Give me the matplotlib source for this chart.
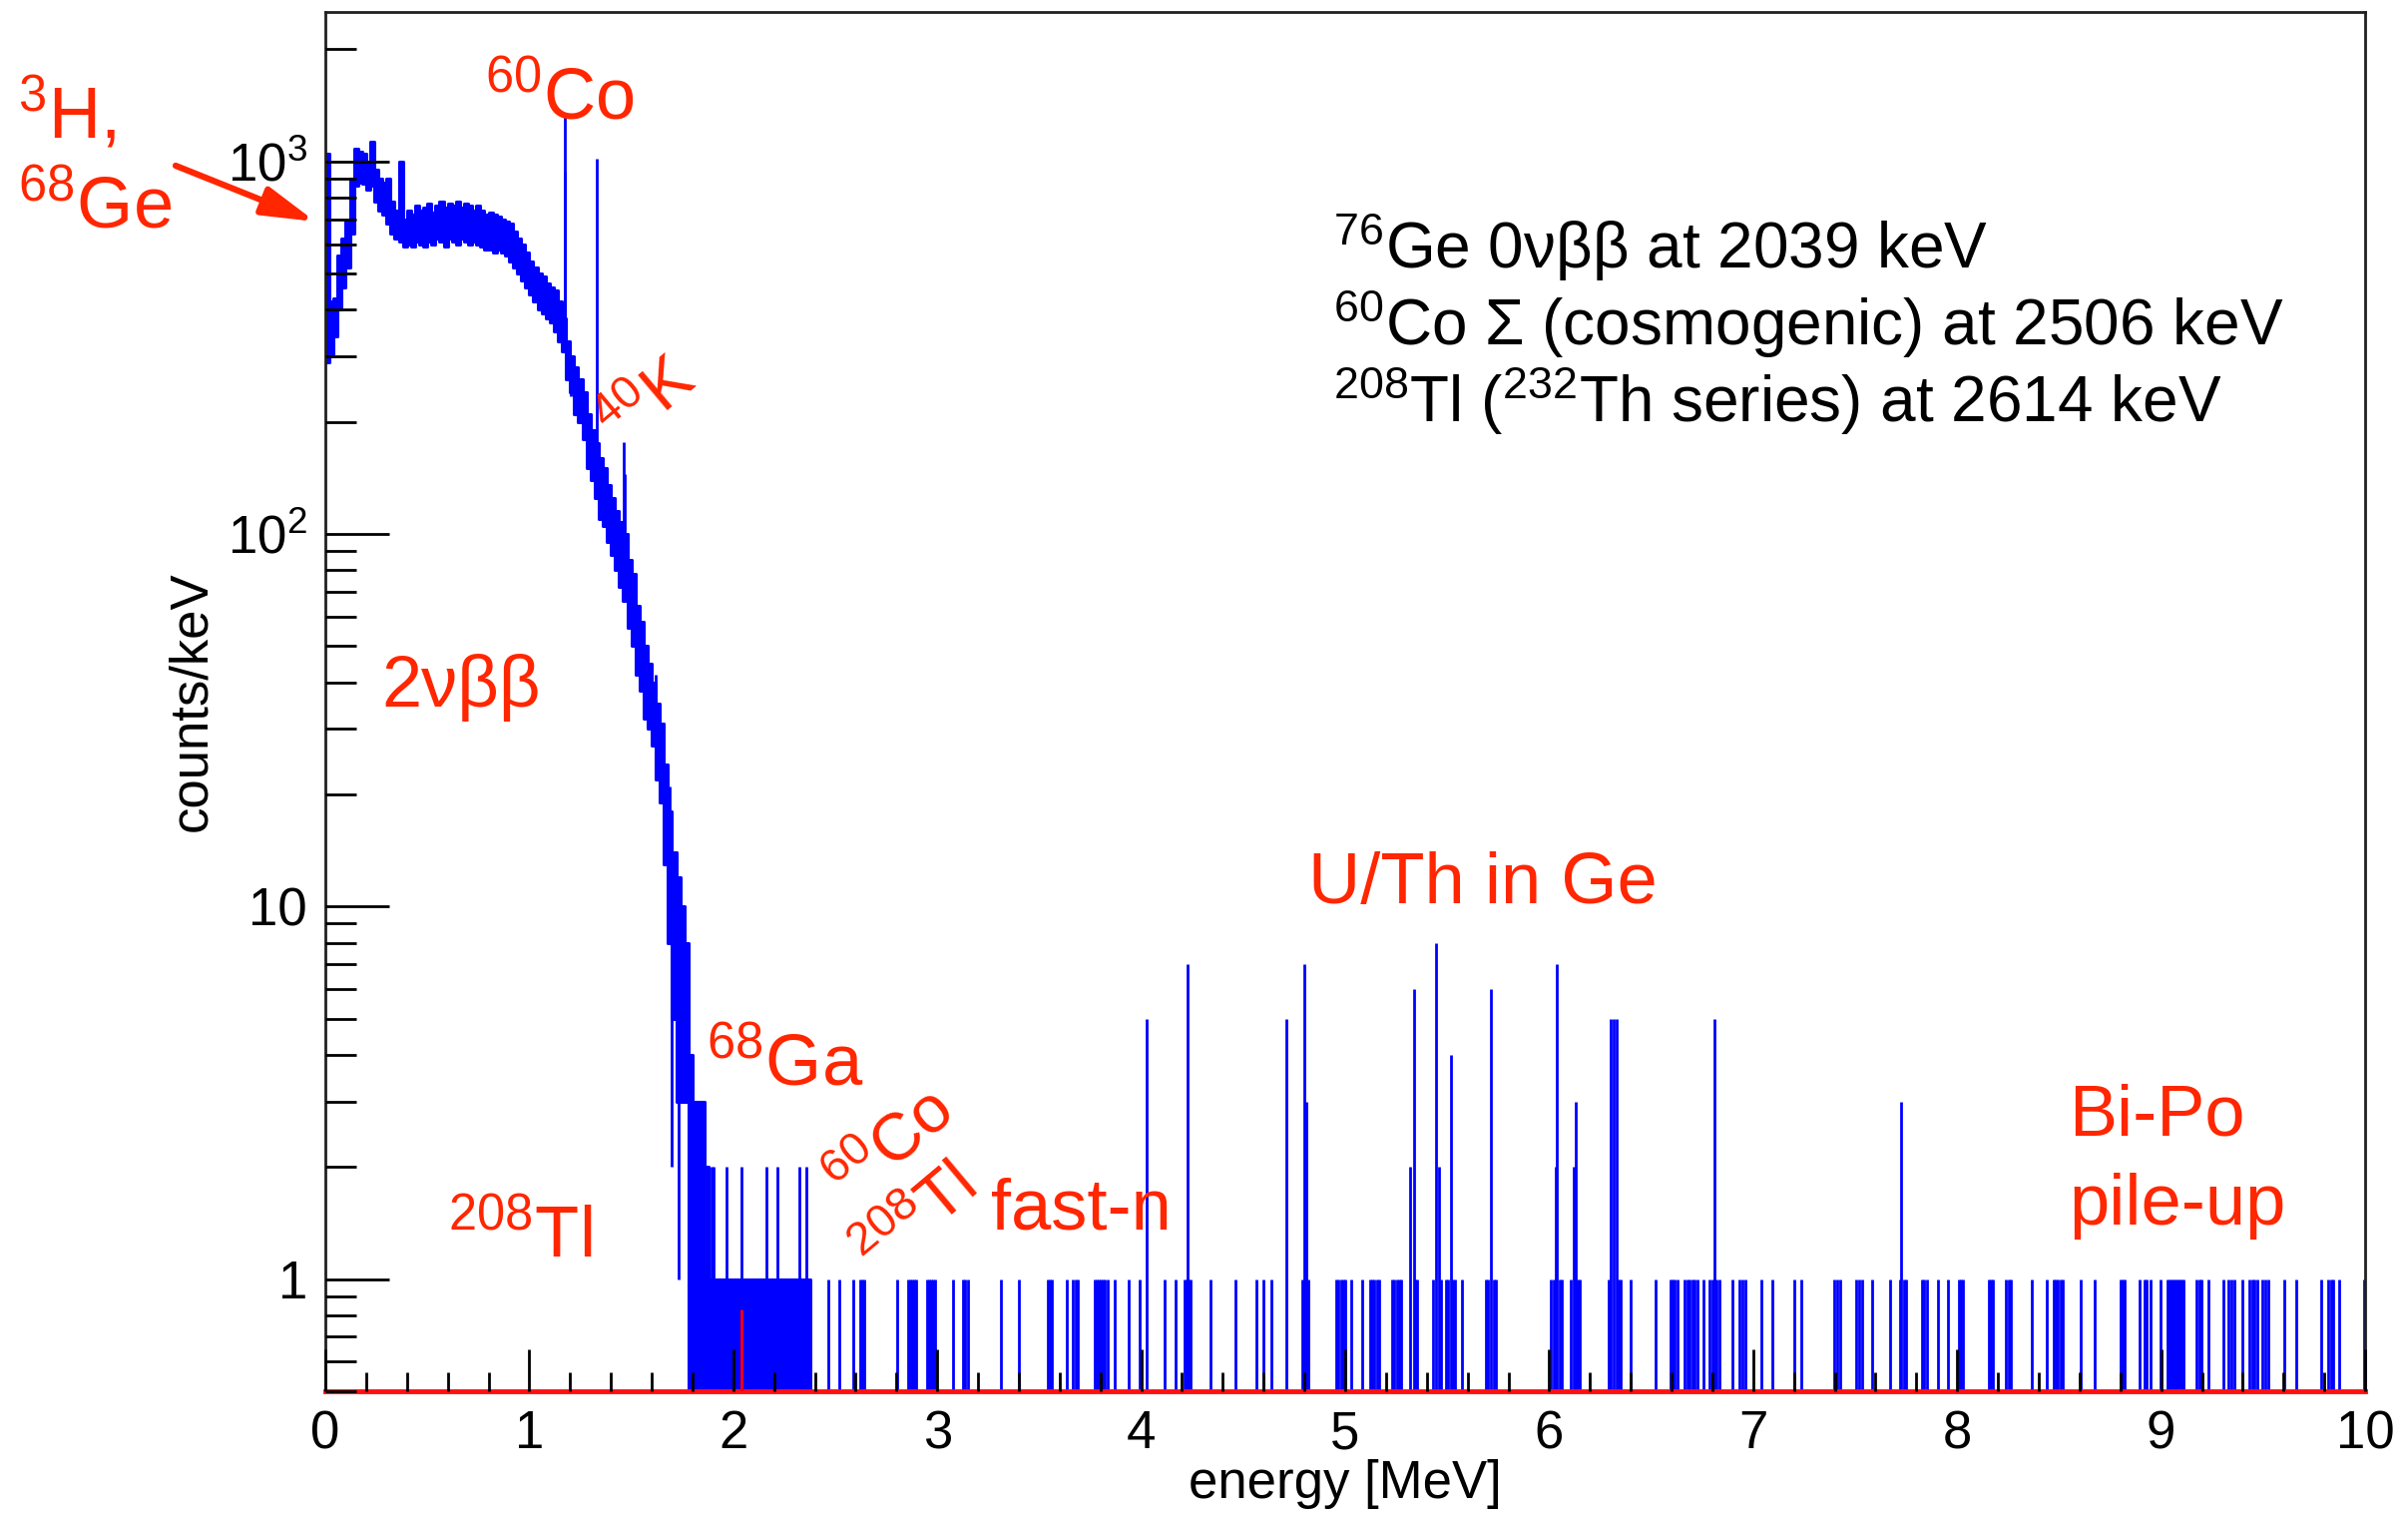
import numpy as np
import matplotlib
matplotlib.use("Agg")
import matplotlib.pyplot as plt
from matplotlib.ticker import MultipleLocator, LogLocator, NullFormatter

plt.rcParams['font.family'] = ['Liberation Sans', 'DejaVu Sans']
plt.rcParams['mathtext.default'] = 'regular'

#-----------------------------------------------------------------------------------------
# spectrum data (energy in MeV, counts/keV)

# continuum band, 20 keV steps from 0 to 2.38 MeV: upper / lower edge of the blue band
band_top = [1050, 420, 430, 560, 620, 690, 900, 1080, 1060, 1050,
            1000, 1130, 950, 900, 880, 900, 780, 740, 1000, 700,
            740, 720, 760, 740, 750, 770, 730, 760, 780, 750,
            770, 760, 780, 750, 770, 760, 740, 760, 740, 720,
            730, 720, 710, 700, 690, 680, 650, 620, 600, 570,
            540, 520, 500, 490, 470, 460, 450, 420, 380, 330,
            300, 280, 260, 240, 210, 190, 175, 160, 150, 135,
            125, 115, 108, 100, 85, 78, 64, 58, 50, 45,
            40, 35, 31, 24, 18, 14, 12, 10, 8, 4,
            3, 3, 3, 2, 1, 1, 1, 1, 1, 1,
            1, 1, 1, 1, 1, 1, 1, 1, 1, 1,
            1, 1, 1, 1, 1, 1, 1, 1, 1]
band_bot = [290, 300, 340, 400, 460, 520, 640, 860, 880, 870,
            840, 860, 780, 740, 720, 680, 640, 620, 610, 590,
            600, 590, 610, 600, 590, 610, 600, 620, 610, 590,
            620, 610, 600, 620, 610, 600, 610, 600, 590, 580,
            580, 570, 580, 570, 560, 540, 520, 500, 480, 460,
            440, 420, 400, 390, 380, 370, 350, 330, 310, 260,
            240, 210, 200, 180, 150, 140, 125, 110, 105, 95,
            88, 80, 72, 66, 56, 50, 42, 38, 32, 30,
            27, 22, 19, 13, 8, 5, 3, 3, 3, 0.5,
            0.5, 0.5, 0.5, 0.5, 0.5, 0.5, 0.5, 0.5, 0.5, 0.5,
            0.5, 0.5, 0.5, 0.5, 0.5, 0.5, 0.5, 0.5, 0.5, 0.5,
            0.5, 0.5, 0.5, 0.5, 0.5, 0.5, 0.5, 0.5, 0.5]

# single bins sticking out of the band (peaks and dips): energy, low end, high end
spike_E = [1.173, 1.176, 1.205, 1.333, 1.461, 1.466, 1.620, 1.690, 1.700, 1.730]
spike_lo = [350, 330, 234, 130, 70, 70, 25, 10, 2, 1]
spike_hi = [1350, 940, 300, 1020, 176, 145, 42, 21, 14, 12]

# bins with 2 counts inside the dense 1.8-2.4 MeV block
twos_E = [1.893, 1.905, 1.966, 2.040, 2.162, 2.218, 2.322, 2.358]

# sparse single counts above 2.4 MeV
ones_E = [
    2.464, 2.520, 2.589, 2.622, 2.632, 2.642,
    2.805, 2.858, 2.868, 2.878, 2.888, 2.898,
    2.948, 2.958, 2.968, 2.978, 2.988,
    3.075, 3.128, 3.138, 3.150, 3.310, 3.400,
    3.540, 3.550, 3.562, 3.633, 3.666, 3.678, 3.690,
    3.772, 3.782, 3.792, 3.802, 3.812, 3.822, 3.835,
    3.870, 3.940, 3.990,
    4.115, 4.170, 4.212, 4.222, 4.232, 4.242,
    4.338, 4.460, 4.565, 4.600, 4.640,
    4.790, 4.820,
    4.958, 4.968, 4.978, 4.990, 5.000, 5.031,
    5.085, 5.120, 5.130, 5.140, 5.155, 5.168,
    5.228, 5.240, 5.252, 5.265, 5.275,
    5.342, 5.352,
    5.432, 5.471, 5.494, 5.505, 5.527, 5.537, 5.572,
    5.690, 5.700, 5.728, 5.740,
    6.009, 6.020, 6.050, 6.061, 6.105, 6.140, 6.152,
    6.289, 6.340, 6.350,
    6.397, 6.521, 6.594, 6.604, 6.612, 6.629, 6.665, 6.678, 6.690,
    6.700, 6.712, 6.726, 6.757, 6.787, 6.798, 6.822, 6.834,
    6.897, 6.932, 6.945, 6.962, 7.040, 7.096, 7.203, 7.238,
    7.395, 7.410, 7.425, 7.503, 7.518, 7.533, 7.582, 7.669,
    7.720, 7.740, 7.750, 7.826, 7.838, 7.850, 7.905, 7.957,
    8.010, 8.020, 8.030, 8.155, 8.165, 8.176, 8.240, 8.252, 8.263,
    8.368, 8.440, 8.473, 8.483, 8.495, 8.506, 8.517, 8.604, 8.674,
    8.800, 8.810, 8.820, 8.892, 8.918, 8.930, 8.950, 8.997,
    9.032, 9.042, 9.052, 9.062, 9.072, 9.082, 9.092, 9.102, 9.110,
    9.175, 9.186, 9.198, 9.233, 9.303, 9.330, 9.345, 9.361, 9.400,
    9.434, 9.446, 9.458, 9.470, 9.495, 9.510, 9.525, 9.605, 9.661,
    9.784, 9.820, 9.832, 9.845, 9.874, 9.995,
]

# sparse bins with more than one count (U/Th alpha region etc.)
peak_E = [4.027, 4.227, 4.710, 4.800, 4.810, 5.319, 5.336, 5.447, 5.460, 5.517,
          5.716, 6.030, 6.037, 6.120, 6.130, 6.300, 6.315, 6.330, 6.810, 7.727]
peak_n = [5, 7, 5, 7, 3, 2, 6, 8, 2, 4, 6, 2, 7, 2, 3, 5, 5, 5, 5, 3]

# 0vbb Q-value marker
qbb_E = 2.039
qbb_h = 0.83

ytick_vals = [1, 10, 100, 1000]
ytick_labels = ['1', '10', r'$10^{2}$', r'$10^{3}$']

#-----------------------------------------------------------------------------------------
W, H = 2413, 1523
blue = '#0000ff'
red = '#ff2600'
ymin, ymax = 0.5, 2520


def fpos(x, y):
    # pixel position (from top-left) -> figure fraction
    return x / W, 1 - y / H


fig = plt.figure(figsize=(W / 100, H / 100), dpi=100)
ax = fig.add_axes([0.1351, 0.0847, 0.8471, 0.9074])
ax.set_yscale('log')
ax.set_xlim(0, 10)
ax.set_ylim(ymin, ymax)

# continuum band
edges = np.linspace(0, 0.02 * len(band_top), len(band_top) + 1)
ax.fill_between(edges, np.append(band_bot, band_bot[-1]), np.append(band_top, band_top[-1]),
                step='post', color=blue, lw=2.2, zorder=2)

# spikes and dips
ax.vlines(spike_E, spike_lo, spike_hi, color=blue, lw=2.0, zorder=2)
# 2-count bins in the dense block
ax.vlines(twos_E, ymin, 2, color=blue, lw=2.0, zorder=2)
# sparse events
ax.vlines(ones_E, ymin, 1, color=blue, lw=2.0, zorder=2)
ax.vlines(peak_E, ymin, peak_n, color=blue, lw=2.0, zorder=2)
# Q-value marker
ax.vlines([qbb_E], ymin, qbb_h, color='#e8001c', lw=2.2, zorder=3)

# axes style (ROOT like)
ax.set_axisbelow(False)
for s in ['top', 'left', 'right']:
    ax.spines[s].set_linewidth(2)
    ax.spines[s].set_color('#202020')
ax.spines['bottom'].set_color('#ff1010')
ax.spines['bottom'].set_linewidth(3.5)

ax.set_xticks(range(11))
ax.set_xticklabels([str(i) for i in range(11)])
ax.xaxis.set_minor_locator(MultipleLocator(0.2))
ax.set_yticks(ytick_vals)
ax.set_yticklabels(ytick_labels)
ax.yaxis.set_minor_locator(LogLocator(base=10, subs=range(2, 10), numticks=30))
ax.yaxis.set_minor_formatter(NullFormatter())

ax.tick_params(axis='y', which='major', direction='in', length=46, width=2, labelsize=38, pad=13, right=False)
ax.tick_params(axis='y', which='minor', direction='in', length=22, width=2, right=False)
ax.tick_params(axis='x', which='major', direction='in', length=30, width=2, labelsize=38, pad=13, top=False)
ax.tick_params(axis='x', which='minor', direction='in', length=14, width=2, top=False)

ax.set_xlabel('energy [MeV]', fontsize=38)
ax.xaxis.label.set_va('center')
ax.xaxis.set_label_coords(0.5, -0.067)
ax.set_ylabel('counts/keV', fontsize=38)
ax.yaxis.label.set_va('center')
ax.yaxis.set_label_coords(-0.0656, 0.5)

#-----------------------------------------------------------------------------------------
# red annotations: text, x, y (pixels from top-left), rotation, size
labels = [
    (r'$^{3}$H,', 18, 138, 0, 52),
    (r'$^{68}$Ge', 18, 228, 0, 52),
    (r'$^{60}$Co', 486, 119, 0, 52),
    (r'$^{40}$K', 624, 450, 40, 48),
    ('2νββ', 382, 708, 0, 52),
    (r'$^{208}$Tl', 449, 1259, 0, 52),
    (r'$^{68}$Ga', 708, 1087, 0, 52),
    (r'$^{60}$Co', 852, 1208, 40, 48),
    (r'$^{208}$Tl', 880, 1280, 40, 48),
    ('fast-n', 993, 1232, 0, 52),
    ('U/Th in Ge', 1311, 905, 0, 52),
    ('Bi-Po', 2073, 1137, 0, 52),
    ('pile-up', 2073, 1227, 0, 52),
]
for txt, px, py, rot, fs in labels:
    fig.text(*fpos(px, py), txt, color=red, fontsize=fs, rotation=rot,
             rotation_mode='anchor', ha='left', va='baseline', zorder=5)

ax.annotate('', xy=fpos(316, 222), xytext=fpos(176, 166),
            xycoords='figure fraction', textcoords='figure fraction',
            arrowprops=dict(arrowstyle='-|>,head_length=0.8,head_width=0.22',
                            mutation_scale=40, color=red, lw=4.5, shrinkA=0, shrinkB=0))

# black legend text
info = [r'$^{76}$Ge 0νββ at 2039 keV',
        r'$^{60}$Co Σ (cosmogenic) at 2506 keV',
        r'$^{208}$Tl ($^{232}$Th series) at 2614 keV']
for i, line in enumerate(info):
    fig.text(*fpos(1336, 269 + 77 * i), line, color='black', fontsize=46,
             ha='left', va='baseline')

fig.savefig('out.png', dpi=100)
